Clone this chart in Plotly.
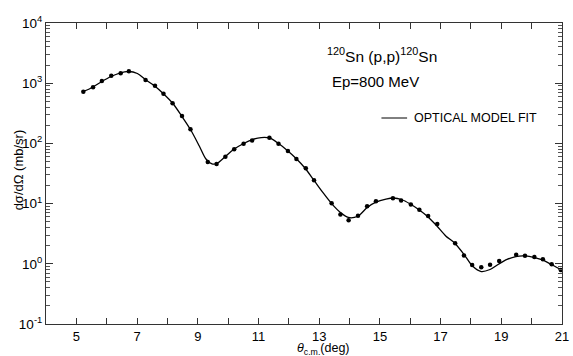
import plotly.graph_objects as go

# Measured 120Sn(p,p) elastic cross sections at Ep = 800 MeV
theta_data = [5.23, 5.55, 5.84, 6.15, 6.46, 6.73, 7.28, 7.59, 7.87, 8.17, 8.48,
              8.76, 9.33, 9.62, 9.91, 10.20, 10.51, 10.79, 11.36, 11.66, 11.97,
              12.25, 12.56, 12.83, 13.41, 13.70, 13.97, 14.28, 14.58, 14.87,
              15.43, 15.70, 16.02, 16.30, 16.59, 16.89, 17.48, 17.77, 18.04,
              18.34, 18.63, 18.93, 19.49, 19.78, 20.09, 20.37, 20.66, 20.96]
xsec_data = [723, 855, 1090, 1335, 1460, 1580, 1130, 907, 670, 464, 285,
             171, 49, 45.5, 60, 80, 99, 112, 124, 99, 75,
             55, 38.6, 24.4, 10.1, 6.6, 5.3, 6.3, 9.0, 10.9,
             12.3, 11.3, 9.7, 7.9, 6.2, 4.6, 2.19, 1.38, 0.955,
             0.875, 0.967, 1.11, 1.42, 1.36, 1.30, 1.19, 0.98, 0.79]

# Optical model fit curve
theta_fit = [5.23, 5.52, 5.84, 6.14, 6.43, 6.72, 7.01, 7.27, 7.56, 7.86, 8.18,
             8.47, 8.76, 9.05, 9.27, 9.47, 9.63, 9.89, 10.18, 10.51, 10.80,
             11.09, 11.36, 11.66, 11.95, 12.24, 12.53, 12.82, 13.12, 13.41,
             13.70, 13.96, 14.16, 14.35, 14.58, 14.87, 15.20, 15.45, 15.71,
             16.00, 16.30, 16.59, 16.88, 17.17, 17.46, 17.76, 18.05, 18.34,
             18.63, 18.92, 19.19, 19.48, 19.78, 20.10, 20.36, 20.65, 20.95, 21.0]
xsec_fit = [728, 849, 1067, 1291, 1476, 1563, 1449, 1151, 915, 675, 460,
            285, 170, 90.6, 55, 45.5, 46.4, 59.4, 79.2, 99.6, 116,
            125, 123, 99.6, 76.2, 56.1, 39.0, 24.7, 15.3, 10.0,
            7.12, 5.88, 5.88, 6.6, 8.6, 10.6, 11.9, 12.4, 11.7,
            9.84, 7.83, 5.99, 4.24, 2.90, 2.22, 1.46, 0.918, 0.744,
            0.804, 0.993, 1.18, 1.32, 1.35, 1.27, 1.16, 0.973, 0.804, 0.774]

x_ticks = list(range(5, 22))
x_ticklabels = [str(v) if v % 2 == 1 else "" for v in x_ticks]
y_decades = [-1, 0, 1, 2, 3, 4]
y_ticklabels = ["10<sup>%d</sup>" % d for d in y_decades]

FONT = "Liberation Sans"
W, H = 573, 356
L, R, T, B = 46, 4, 23, 32
pw, ph = W - L - R, H - T - B


def px(x):
    return (x - L) / pw


def py(y):
    return (H - B - y) / ph


fig = go.Figure()
fig.add_trace(go.Scatter(
    x=theta_fit, y=xsec_fit, mode="lines",
    line=dict(color="black", width=1.3, shape="spline", smoothing=0.8),
    hoverinfo="skip"))
fig.add_trace(go.Scatter(
    x=theta_data, y=xsec_data, mode="markers",
    marker=dict(color="black", size=4.5)))

minor_vals = [m * 10 ** d for d in y_decades[:-1] for m in range(2, 10)]

fig.update_layout(
    width=W, height=H,
    margin=dict(l=L, r=R, t=T, b=B),
    paper_bgcolor="white", plot_bgcolor="white",
    showlegend=False,
    font=dict(family=FONT, color="black", size=13),
    xaxis=dict(
        range=[4, 21], tickvals=x_ticks, ticktext=x_ticklabels,
        ticks="inside", ticklen=6, tickwidth=1, tickcolor="#333",
        showline=True, linecolor="#333", linewidth=1, mirror="ticks",
        showgrid=False, zeroline=False, tickfont=dict(size=13),
        ticklabeloverflow="allow"),
    yaxis=dict(
        type="log", range=[-1, 4],
        tickvals=[10 ** d for d in y_decades], ticktext=y_ticklabels,
        ticks="inside", ticklen=7, tickwidth=1, tickcolor="#333",
        showline=True, linecolor="#333", linewidth=1, mirror="ticks",
        showgrid=False, zeroline=False, tickfont=dict(size=13.5),
        ticklabeloverflow="allow",
        minor=dict(tickvals=minor_vals, ticks="inside", ticklen=4,
                   tickcolor="#555", showgrid=False)),
)

annotations = [
    dict(text="<sup>120</sup>Sn (p,p)<sup>120</sup>Sn", x=px(387), y=py(55),
         font=dict(size=15.5)),
    dict(text="Ep=800 MeV", x=px(380), y=py(82), font=dict(size=15)),
    dict(text="OPTICAL MODEL FIT", x=px(417), y=py(118), xanchor="left",
         font=dict(size=12.5)),
    dict(text="<i>θ</i><sub>c.m.</sub>(deg)", x=px(327), y=py(348.5),
         font=dict(size=12.5)),
    dict(text="dσ/dΩ (mb/sr)", x=px(18), y=py(170), textangle=-90,
         font=dict(size=13)),
]
for a in annotations:
    a.setdefault("xanchor", "center")
    fig.add_annotation(xref="paper", yref="paper", showarrow=False,
                       yanchor="middle", **a)

fig.add_shape(type="line", xref="paper", yref="paper",
              x0=px(386), x1=px(412), y0=py(118), y1=py(118),
              line=dict(color="black", width=1))

fig.write_html("out.html")
